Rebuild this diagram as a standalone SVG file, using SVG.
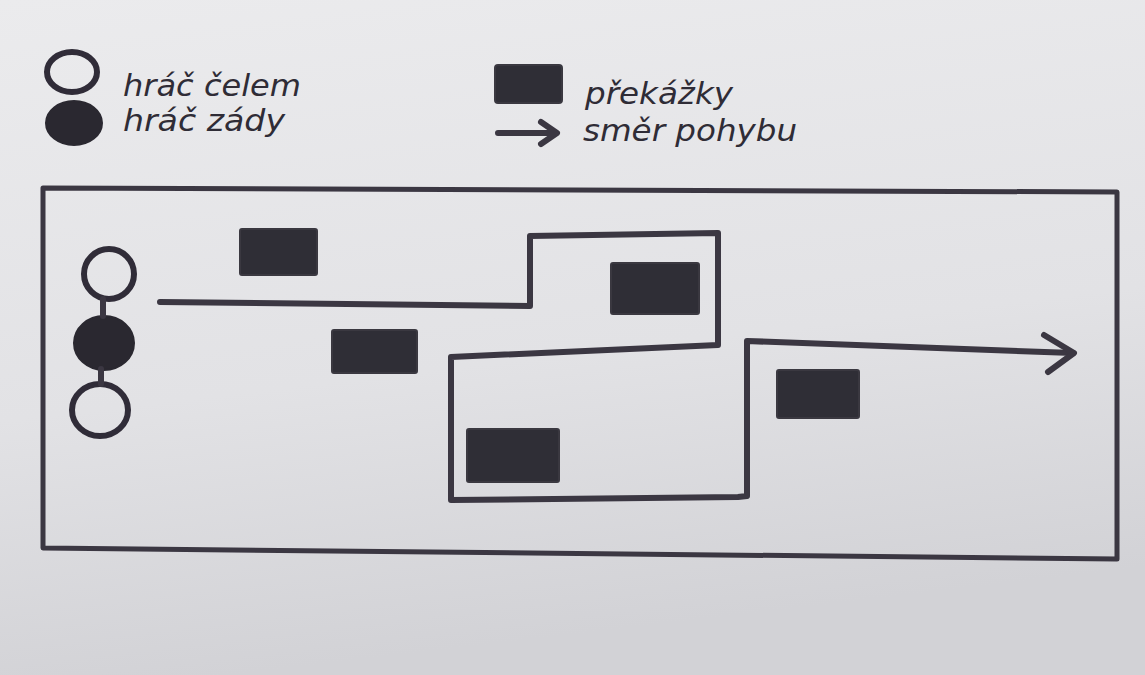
<svg xmlns="http://www.w3.org/2000/svg" width="1145" height="675" viewBox="0 0 1145 675">
  <defs>
    <linearGradient id="paper" x1="0" y1="0" x2="0.2" y2="1">
      <stop offset="0" stop-color="#ebebed"/>
      <stop offset="0.6" stop-color="#e2e2e5"/>
      <stop offset="1" stop-color="#d2d2d6"/>
    </linearGradient>
    <style>
      .ink { fill: none; stroke: #3b3742; stroke-width: 6; stroke-linecap: round; stroke-linejoin: round; }
      .thin { fill: none; stroke: #3b3742; stroke-width: 5; stroke-linecap: round; stroke-linejoin: round; }
      .obst { fill: #2f2e36; stroke: #3a3840; stroke-width: 2; }
      .solid { fill: #2a2830; stroke: #2a2830; stroke-width: 2; }
      .ring { fill: none; stroke: #302c38; stroke-width: 6; }
      .hand { font-family: "DejaVu Sans", "Liberation Sans", sans-serif; font-style: italic; font-size: 30px; fill: #2f2c36; }
    </style>
  </defs>
  <rect x="0" y="0" width="1145" height="675" fill="url(#paper)"/>

  <!-- legend -->
  <g id="legend-front">
    <ellipse class="ring" cx="72" cy="72" rx="25" ry="20"/>
    <text class="hand" x="123" y="96" textLength="178" lengthAdjust="spacingAndGlyphs">hráč čelem</text>
  </g>
  <g id="legend-back">
    <ellipse class="solid" cx="74" cy="123" rx="28" ry="22"/>
    <text class="hand" x="123" y="131" textLength="162" lengthAdjust="spacingAndGlyphs">hráč zády</text>
  </g>
  <g id="legend-obstacle">
    <rect class="obst" x="495" y="65" width="67" height="38" rx="3"/>
    <text class="hand" x="585" y="104" textLength="148" lengthAdjust="spacingAndGlyphs">překážky</text>
  </g>
  <g id="legend-arrow">
    <path class="ink" d="M498 133 L556 133 M541 122 L557 133 L541 144"/>
    <text class="hand" x="583" y="141" textLength="214" lengthAdjust="spacingAndGlyphs">směr pohybu</text>
  </g>

  <!-- field -->
  <g id="field">
    <path class="thin" d="M43 188 L1117 192 L1117 559 L43 548 Z"/>
  </g>

  <!-- players -->
  <g id="player-top">
    <ellipse class="ring" cx="109" cy="274" rx="25" ry="25"/>
  </g>
  <g id="player-middle">
    <ellipse class="solid" cx="104" cy="343" rx="30" ry="27"/>
  </g>
  <g id="player-bottom">
    <ellipse class="ring" cx="100" cy="410" rx="28" ry="26"/>
  </g>

  <!-- obstacles -->
  <g id="obstacle-1"><rect class="obst" x="240" y="229" width="77" height="46" rx="2"/></g>
  <g id="obstacle-2"><rect class="obst" x="332" y="330" width="85" height="43" rx="2"/></g>
  <g id="obstacle-3"><rect class="obst" x="611" y="263" width="88" height="51" rx="2"/></g>
  <g id="obstacle-4"><rect class="obst" x="467" y="429" width="92" height="53" rx="2"/></g>
  <g id="obstacle-5"><rect class="obst" x="777" y="370" width="82" height="48" rx="2"/></g>

  <!-- connectors -->
  <g id="connectors">
    <path class="ink" d="M103 299 L103 316"/>
    <path class="ink" d="M101 369 L101 384"/>
    <path class="ink" d="M160 302 L530 306 L530 236 L718 233 L718 345 L451 357 L451 500 L738 497 L747 496 L747 341 L1073 353"/>
    <path class="ink" d="M1044 335 L1074 353 L1048 372"/>
  </g>
</svg>
